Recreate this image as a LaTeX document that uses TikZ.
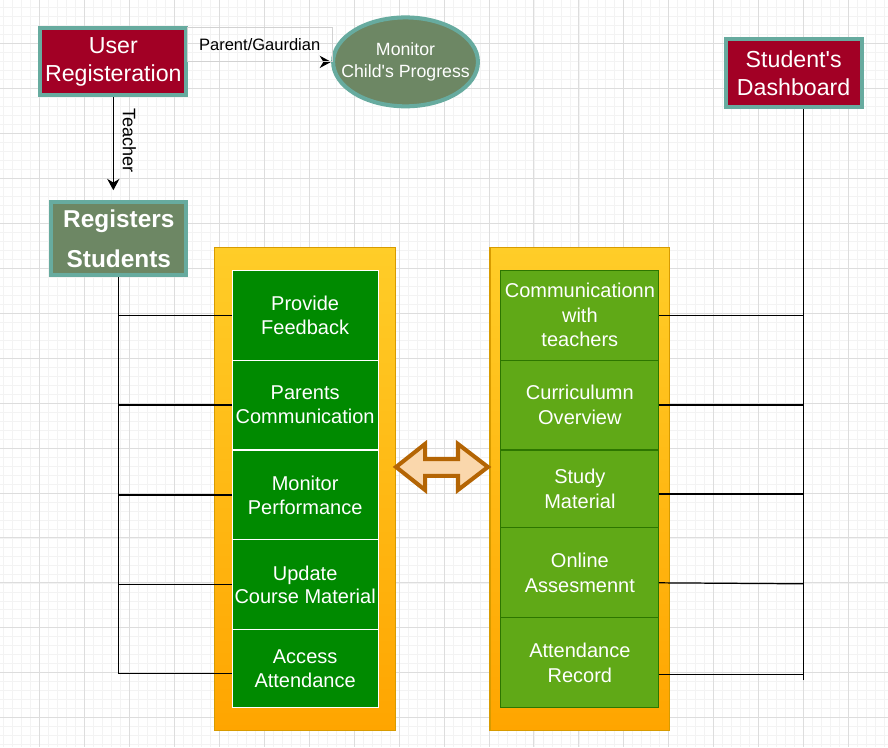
\documentclass[tikz,border=0pt]{standalone}
\usepackage{fontspec}
\setmainfont{Liberation Sans}
\newfontfamily\plainsans{Liberation Sans}
\usepackage{xcolor}
\usepackage{tikz}
\usetikzlibrary{shapes.geometric,arrows.meta,positioning,calc}
\definecolor{tealedge}{HTML}{67AB9F}
\definecolor{crimsoncol}{HTML}{A20025}
\definecolor{olivecol}{HTML}{6D8764}
\definecolor{darkgreen}{HTML}{008A00}
\definecolor{limegreen}{HTML}{60A917}
\definecolor{limeedge}{HTML}{2D7600}
\definecolor{ambertop}{HTML}{FFCD28}
\definecolor{amberbot}{HTML}{FFA500}
\definecolor{amberedge}{HTML}{D79B00}
\definecolor{peachcol}{HTML}{FAD7AC}
\definecolor{rustcol}{HTML}{B46504}
\definecolor{gridmajor}{HTML}{DDDDDD}
\definecolor{gridminor}{HTML}{F3F3F3}

\begin{document}
\plainsans
\begin{tikzpicture}[
    x=0.02cm, y=-0.02cm,
    redbox/.style={draw=tealedge, fill=crimsoncol, line width=2.3pt, text=white, align=center, inner sep=0pt, font=\fontsize{13.2}{15.9}\selectfont},
    olivebox/.style={draw=tealedge, fill=olivecol, line width=2.3pt, text=white, align=center, inner sep=0pt},
    panel/.style={draw=amberedge, top color=ambertop, bottom color=amberbot, line width=0.6pt, inner sep=0pt},
    leftitem/.style={draw=white, fill=darkgreen, line width=0.6pt, text=white, align=center, inner sep=0pt, outer sep=0pt, minimum width=2.92cm, font=\fontsize{11.4}{13.6}\selectfont},
    rightitem/.style={draw=limeedge, fill=limegreen, line width=0.6pt, text=white, align=center, inner sep=0pt, outer sep=0pt, minimum width=3.16cm, font=\fontsize{11.4}{13.9}\selectfont},
    link/.style={black, line width=0.7pt},
]

% ============================================================
% BACKGROUND GRID
% ============================================================
\fill[white] (0,0) rectangle (888,747);
\foreach \gx in {3,12,...,885} \draw[gridminor, line width=0.4pt] (\gx,0) -- (\gx,747);
\foreach \gy in {7,16,...,745} \draw[gridminor, line width=0.4pt] (0,\gy) -- (888,\gy);
\foreach \gx in {39,84,...,849} \draw[gridmajor, line width=0.5pt] (\gx,0) -- (\gx,747);
\foreach \gy in {43,88,...,718} \draw[gridmajor, line width=0.5pt] (0,\gy) -- (888,\gy);
\useasboundingbox (0,0) rectangle (888,747);

% ============================================================
% REGISTRATION
% ============================================================
\node[redbox, minimum width=2.92cm, minimum height=1.34cm] (userreg) at (113,61.5) {User\\Registeration};
\node[olivebox, ellipse, minimum width=2.9cm, minimum height=1.78cm, inner xsep=-0.28cm, inner ysep=-0.1cm, font=\fontsize{10.1}{12.3}\selectfont] (progress) at (405.5,61.5) {Monitor\\Child's Progress};
\node[olivebox, minimum width=2.7cm, minimum height=1.46cm, font=\bfseries\fontsize{13.9}{22.7}\selectfont] (regstu) at (118.5,238.5) {Registers\\Students};

% Parent / teacher paths
\draw[link, -{Stealth[length=6.5pt, width=7pt]}] (userreg) -- node[draw=gray!35, line width=0.5pt, anchor=south, minimum width=2.9cm, minimum height=0.68cm, inner sep=0pt, font=\fontsize{9.4}{11}\selectfont] (parentlbl) {Parent/Gaurdian} (progress);
\draw[link, -{Stealth[length=6.5pt, width=7pt]}, shorten >=0.2cm] (userreg.south) -- node[pos=0.42, rotate=-90, anchor=south, inner sep=5pt, font=\fontsize{10.3}{12}\selectfont] (teacherlbl) {Teacher} (userreg.south |- regstu.north);

% ============================================================
% TEACHER PANEL
% ============================================================
\node[panel, minimum width=3.62cm, minimum height=9.68cm] (leftpanel) at (304.5,489) {};
\node[leftitem, minimum height=1.8cm] (feedback) at (305,315) {Provide\\Feedback};
\node[leftitem, minimum height=1.8cm, below=0pt of feedback] (parents) {Parents\\Communication};
\node[leftitem, minimum height=1.8cm, below=0pt of parents] (perform) {Monitor\\Performance};
\node[leftitem, minimum height=1.8cm, below=0pt of perform] (course) {Update\\Course Material};
\node[leftitem, minimum height=1.56cm, below=0pt of course] (attend) {Access\\Attendance};

% Teacher links
\coordinate (ltrunk) at ([yshift=-0.1cm]attend.west -| regstu.south);
\draw[link] (regstu.south) -- (ltrunk);
\foreach \item in {feedback,parents,perform,course}
    \draw[link] (\item.west) -- (\item.west -| regstu.south);
\draw[link] ([yshift=-0.1cm]attend.west) -- (ltrunk);

% ============================================================
% STUDENT PANEL
% ============================================================
\node[panel, minimum width=3.6cm, minimum height=9.68cm] (rightpanel) at (580,489) {};
\node[rightitem, minimum height=1.8cm] (chat) at (580,315) {Communicationn\\with\\teachers};
\node[rightitem, minimum height=1.8cm, below=0pt of chat] (curric) {Curriculumn\\Overview};
\node[rightitem, minimum height=1.56cm, below=0pt of curric] (study) {Study\\Material};
\node[rightitem, minimum height=1.8cm, below=0pt of study] (assess) {Online\\Assesmennt};
\node[rightitem, minimum height=1.8cm, below=0pt of assess] (record) {Attendance\\Record};

% Exchange arrow
\draw[fill=peachcol, draw=rustcol, line width=2.3pt] (396,467) -- (425,444) -- (425,459) -- (458,459) -- (458,444) -- (488,467) -- (458,490) -- (458,476) -- (425,476) -- (425,490) -- cycle;

% Dashboard links
\node[redbox, minimum width=2.72cm, minimum height=1.36cm] (dash) at (794,73) {Student's\\Dashboard};
\coordinate (rtrunk) at (804,680);
\draw[link] (dash.south -| rtrunk) -- (rtrunk);
\draw[link] (chat.east) -- (chat.east -| rtrunk);
\draw[link] (curric.east) -- (curric.east -| rtrunk);
\draw[link] ([yshift=-0.1cm]study.east) -- ([yshift=-0.1cm]study.east -| rtrunk);
\draw[link] ([yshift=-0.2cm]assess.east) -- ([yshift=-0.22cm]assess.east -| rtrunk);
\draw[link] ([yshift=-0.24cm]record.east) -- ([yshift=-0.24cm]record.east -| rtrunk);

\end{tikzpicture}
\end{document}
